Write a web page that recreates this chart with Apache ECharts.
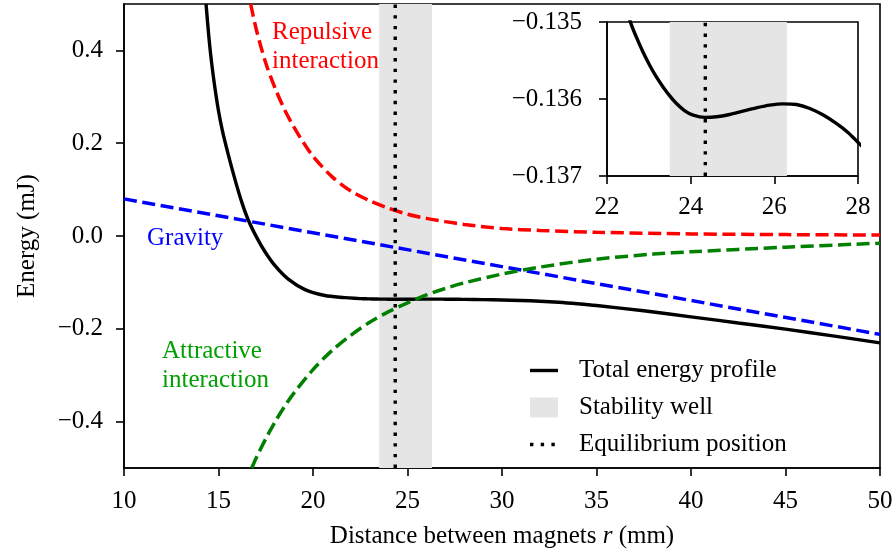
<!DOCTYPE html>
<html><head><meta charset="utf-8">
<script src="https://cdn.jsdelivr.net/npm/echarts@6/dist/echarts.min.js"></script>
<style>html,body{margin:0;padding:0;background:#fff}#c{width:896px;height:556px}</style>
</head><body><div id="c"></div>
<script>
// ---- tick labels ----
const xTicks = [10, 15, 20, 25, 30, 35, 40, 45, 50];
const yTicks = [-0.4, -0.2, 0, 0.2, 0.4];
const insetXTicks = [22, 24, 26, 28];
const insetYTicks = [-0.137, -0.136, -0.135];

// ---- total energy (black) ----
const totalR = [14.34, 14.5, 14.64, 14.8, 14.99, 15.2, 15.5, 15.87, 16.23, 16.58, 17.02, 17.46, 17.99, 18.69, 19.58, 20.63, 21.69, 22.2,
  22.56, 22.70, 22.86, 23.02, 23.18, 23.34, 23.50, 23.66, 23.86, 24.06, 24.34, 24.62, 24.93, 25.25, 25.57, 25.89, 26.21, 26.53, 26.85, 27.17, 27.48, 27.76, 28.0,
  29, 30, 31, 32, 33, 34, 35, 37.5, 40, 42.5, 45, 47.5, 50];
const totalE = [0.500, 0.425, 0.372, 0.322, 0.272, 0.228, 0.178, 0.122, 0.073, 0.034, -0.003, -0.034, -0.064, -0.093, -0.1155, -0.1283, -0.1328, -0.1343,
  -0.13500, -0.135194, -0.135389, -0.135561, -0.135713, -0.135843, -0.135959, -0.136058, -0.136153, -0.136209, -0.136239, -0.136231, -0.136201, -0.136157, -0.136115, -0.13608, -0.136063, -0.136071, -0.136123, -0.136209, -0.136317, -0.136434, -0.136563,
  -0.1371, -0.1378, -0.1390, -0.1405, -0.1428, -0.1460, -0.1498, -0.1612, -0.1742, -0.1875, -0.2008, -0.2152, -0.2302];

// ---- repulsive interaction (red) ----
const repR = [16.7, 17, 17.5, 18, 18.5, 19, 19.5, 20, 21, 22, 23, 24, 25, 26, 27, 28, 30, 32, 35, 40, 45, 50];
const repE = [0.5, 0.445, 0.373, 0.318, 0.272, 0.234, 0.201, 0.172, 0.128, 0.097, 0.076, 0.060, 0.047, 0.038, 0.031, 0.025, 0.016, 0.012, 0.008, 0.0045, 0.003, 0.002];

// ---- attractive interaction (green) ----
const attR = [16.76, 17, 17.5, 18, 18.5, 19, 20, 21, 22, 23, 24, 25, 26, 27, 28, 30, 32, 35, 38, 40, 45, 50];
const attE = [-0.5, -0.478, -0.437, -0.400, -0.367, -0.338, -0.288, -0.247, -0.214, -0.186, -0.163, -0.144, -0.127, -0.113, -0.101, -0.082, -0.067, -0.050, -0.039, -0.034, -0.024, -0.0155];

// ---- gravity (blue) ----
const gravR = [10, 20, 30, 40, 50];
const gravE = [0.080, 0.007, -0.066, -0.139, -0.212];

// ---- stability well and equilibrium ----
const wellR = [23.5, 26.3];
const eqR = 24.35;

const FONT = 'Liberation Serif';
const FS = 25;
const pairs = (xs, ys) => xs.map((x, i) => [x, ys[i]]);
const fmt = d => v => (v < 0 ? '\u2212' : '') + Math.abs(v).toFixed(d);

function axisCommon(ticks, formatter, margin) {
  return {
    axisLine: { show: true, onZero: false, lineStyle: { color: '#000', width: 1.6 } },
    axisTick: { show: true, inside: false, length: 8, customValues: ticks, lineStyle: { color: '#000', width: 1.6 } },
    axisLabel: { customValues: ticks, formatter: formatter, margin: margin, color: '#000', fontFamily: FONT, fontSize: FS },
    splitLine: { show: false }
  };
}

const dashed = c => ({ color: c, width: 3.5, type: [13, 5.6] });
const dotted = { color: '#000', width: 3.4, type: [3.4, 7.3] };
const solid = { color: '#000', width: 3.4 };

const chart = echarts.init(document.getElementById('c'), null, { renderer: 'canvas' });
chart.setOption({
  animation: false,
  backgroundColor: '#fff',
  grid: [
    { left: 124, top: 4, width: 756, height: 464, show: true, borderColor: '#000', borderWidth: 1.6, backgroundColor: 'transparent' },
    { left: 607, top: 22, width: 251, height: 154, show: true, borderColor: '#000', borderWidth: 1.6, backgroundColor: '#fff' }
  ],
  xAxis: [
    Object.assign({ gridIndex: 0, type: 'value', min: 10, max: 50,
      name: 'Distance between magnets {i|r} (mm)', nameLocation: 'middle', nameGap: 56,
      nameTextStyle: { fontFamily: FONT, fontSize: FS, color: '#000', rich: { i: { fontFamily: FONT, fontSize: FS, fontStyle: 'italic', color: '#000' } } }
    }, axisCommon(xTicks, v => String(v), 21)),
    Object.assign({ gridIndex: 1, type: 'value', min: 22, max: 28 }, axisCommon(insetXTicks, v => String(v), 19))
  ],
  yAxis: [
    Object.assign({ gridIndex: 0, type: 'value', min: -0.5, max: 0.5,
      name: 'Energy (mJ)', nameLocation: 'middle', nameGap: 84,
      nameTextStyle: { fontFamily: FONT, fontSize: FS, color: '#000' }
    }, axisCommon(yTicks, fmt(1), 21)),
    Object.assign({ gridIndex: 1, type: 'value', min: -0.137, max: -0.135 }, axisCommon(insetYTicks, fmt(3), 25))
  ],
  legend: {
    orient: 'vertical', left: 530, top: 358, padding: 0, itemWidth: 28, itemHeight: 20, itemGap: 12,
    selectedMode: false,
    itemStyle: { borderWidth: 0 },
    textStyle: { fontFamily: FONT, fontSize: FS, color: '#000', padding: [0, 0, 0, 16] },
    data: [
      { name: 'Total energy profile', icon: 'path://M0,0M0,8.3H28V11.7H0ZM28,20' },
      { name: 'Stability well', icon: 'rect' },
      { name: 'Equilibrium position', icon: 'path://M0,0M0,8.3h3.4v3.4h-3.4zM10.7,8.3h3.4v3.4h-3.4zM21.4,8.3h3.4v3.4h-3.4zM28,20' }
    ]
  },
  graphic: [
    { type: 'text', x: 272, y: 47, style: { text: 'Repulsive\ninteraction', fill: '#ff0000', fontFamily: FONT, fontSize: FS, lineHeight: 29, verticalAlign: 'middle', align: 'left' } },
    { type: 'text', x: 147, y: 238, style: { text: 'Gravity', fill: '#0000ff', fontFamily: FONT, fontSize: FS, verticalAlign: 'middle', align: 'left' } },
    { type: 'text', x: 162, y: 366, style: { text: 'Attractive\ninteraction', fill: '#00a000', fontFamily: FONT, fontSize: FS, lineHeight: 29, verticalAlign: 'middle', align: 'left' } }
  ],
  series: [
    { name: 'Stability well', type: 'line', xAxisIndex: 0, yAxisIndex: 0, data: [], z: 1, color: '#e5e5e5', symbol: 'none',
      markArea: { silent: true, itemStyle: { color: '#e5e5e5', opacity: 1 }, data: [[{ xAxis: wellR[0] }, { xAxis: wellR[1] }]] } },
    { name: 'Stability well', type: 'line', xAxisIndex: 1, yAxisIndex: 1, data: [], z: 1, color: '#e5e5e5', symbol: 'none',
      markArea: { silent: true, itemStyle: { color: '#e5e5e5', opacity: 1 }, data: [[{ xAxis: wellR[0] }, { xAxis: wellR[1] }]] } },
    { name: 'Total energy profile', type: 'line', xAxisIndex: 0, yAxisIndex: 0, data: pairs(totalR, totalE), smooth: 0.3,
      symbol: 'none', color: '#000', lineStyle: solid, z: 3, clip: true },
    { name: 'Repulsive interaction', type: 'line', xAxisIndex: 0, yAxisIndex: 0, data: pairs(repR, repE), smooth: 0.3,
      symbol: 'none', color: '#ff0000', lineStyle: dashed('#ff0000'), z: 4, clip: true },
    { name: 'Gravity', type: 'line', xAxisIndex: 0, yAxisIndex: 0, data: pairs(gravR, gravE),
      symbol: 'none', color: '#0000ff', lineStyle: dashed('#0000ff'), z: 4, clip: true },
    { name: 'Attractive interaction', type: 'line', xAxisIndex: 0, yAxisIndex: 0, data: pairs(attR, attE), smooth: 0.3,
      symbol: 'none', color: '#008000', lineStyle: dashed('#008000'), z: 4, clip: true },
    { name: 'Equilibrium position', type: 'line', xAxisIndex: 0, yAxisIndex: 0, data: [[eqR, -0.5], [eqR, 0.5]],
      symbol: 'none', color: '#000', lineStyle: dotted, z: 5, clip: true },
    { name: 'Total energy profile', type: 'line', xAxisIndex: 1, yAxisIndex: 1, data: pairs(totalR, totalE), smooth: 0.3,
      symbol: 'none', color: '#000', lineStyle: solid, z: 3, clip: true },
    { name: 'Equilibrium position', type: 'line', xAxisIndex: 1, yAxisIndex: 1, data: [[eqR, -0.137], [eqR, -0.135]],
      symbol: 'none', color: '#000', lineStyle: dotted, z: 5, clip: true }
  ]
});
</script>
</body></html>
